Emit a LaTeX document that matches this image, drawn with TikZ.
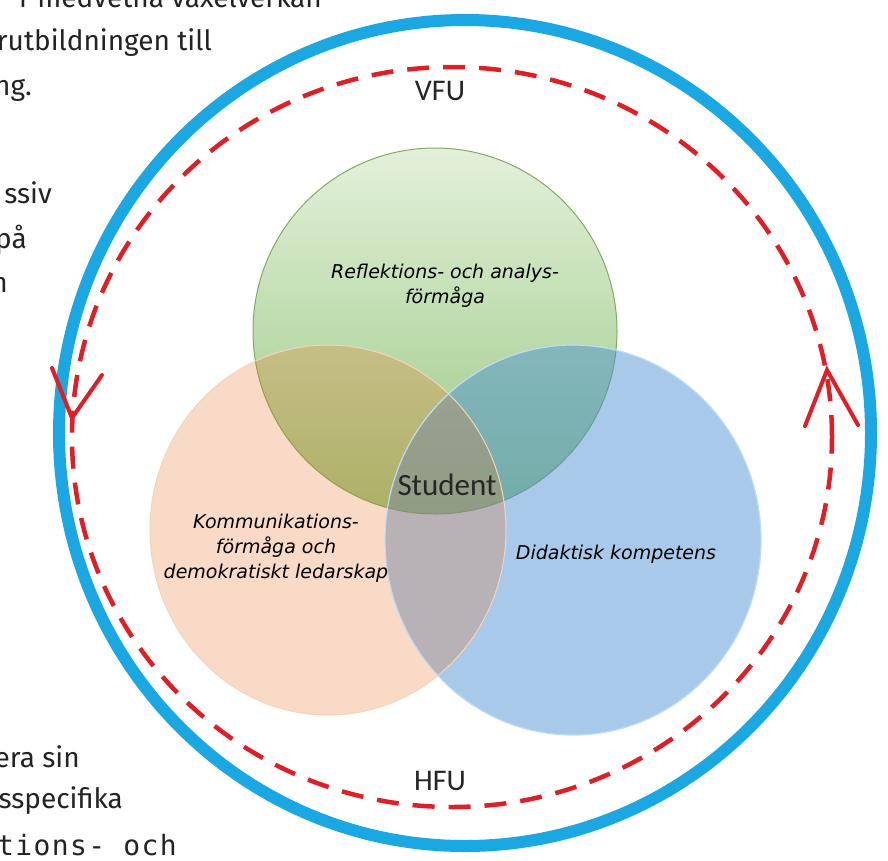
\documentclass[tikz,border=0pt]{standalone}
\usepackage{fontspec}
\setmainfont{Fira Sans}
\newfontfamily\calfont{Carlito}
\newfontfamily\vennfont{DejaVu Sans}
\newfontfamily\spacedmono[LetterSpace=5]{DejaVu Sans Mono}
\definecolor{ringblue}{RGB}{27,168,226}
\definecolor{dashred}{RGB}{224,30,38}
\definecolor{textgrey}{RGB}{35,35,35}
\definecolor{peach}{RGB}{235,108,28}
\definecolor{peachline}{RGB}{246,212,186}
\definecolor{skyblue}{RGB}{74,144,211}
\definecolor{skyline}{RGB}{190,220,245}
\definecolor{greentop}{RGB}{228,240,218}
\definecolor{greenbot}{RGB}{150,200,128}
\definecolor{greenline}{RGB}{128,172,98}
\begin{document}
\begin{tikzpicture}[x=1pt,y=-1pt,
  bgtext/.style={anchor=base east,inner sep=0pt,text=textgrey,font=\fontsize{28}{32}\selectfont},
  venntext/.style={align=center,inner sep=0pt,text=black,font=\vennfont\itshape\fontsize{19}{25}\selectfont},
  cycletext/.style={anchor=base,inner sep=0pt,text=black!85,font=\calfont\fontsize{30}{36}\selectfont},
  dashring/.style={draw=dashred,line width=4.5pt,dash pattern=on 22pt off 14pt},
  barb/.style={draw=dashred,line width=4pt,line cap=round}]
\useasboundingbox (0,0) rectangle (888,860);
\fill[white] (0,0) rectangle (888,860);
\foreach \x/\y/\txt [count=\i] in {322/7/r medvetna växelverkan, 212/50/arutbildningen till,
  32/95/ng., 52/203/ssiv, 27/248/på, 8/292/n, 80/767/era sin, 123/808/sspecifika}
  \node[bgtext] (bg\i) at (\x,\y) {\txt};
\node[bgtext,font=\spacedmono\fontsize{28}{32}\selectfont] (bgmono) at (177,855) {tions- och};
\draw[ringblue,line width=12pt] (465,433) ellipse [x radius=406pt, y radius=413pt];
\draw[dashring] (452,437) ellipse [x radius=380pt, y radius=370pt];
\draw[barb] (52,368) -- (72,418) -- (102,375);
\draw[barb] (805,426) -- (827,370) -- (858,425);
\shade[top color=greentop,bottom color=greenbot] (435,331) ellipse [x radius=182pt, y radius=183pt];
\draw[greenline,line width=1pt] (435,331) ellipse [x radius=182pt, y radius=183pt];
\fill[skyblue,fill opacity=0.48] (573,540) ellipse [x radius=188pt, y radius=195pt];
\fill[peach,fill opacity=0.25] (328,530) ellipse [x radius=178pt, y radius=185pt];
\draw[peachline,line width=1pt] (328,530) ellipse [x radius=178pt, y radius=185pt];
\draw[skyline,line width=1.2pt] (573,540) ellipse [x radius=188pt, y radius=195pt];
\node[cycletext] (vfu) at (440,100) {VFU};
\node[cycletext] (hfu) at (440,790) {HFU};
\node[cycletext,font=\calfont\fontsize{31}{36}\selectfont] (student) at (447,495) {Student};
\node[venntext] (refl) at (445,286) {Reflektions- och analys-\\förmåga};
\node[venntext] (komm) at (276,548) {Kommunikations-\\förmåga och\\demokratiskt ledarskap};
\node[venntext,anchor=base] (did) at (616,559) {Didaktisk kompetens};
\end{tikzpicture}
\end{document}
